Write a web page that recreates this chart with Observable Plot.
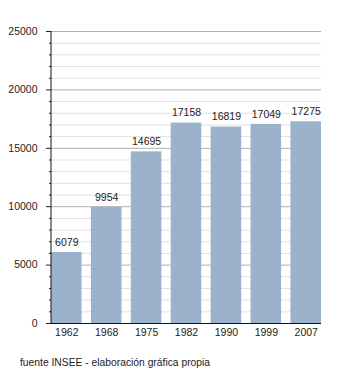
<!DOCTYPE html>
<html>
<head>
<meta charset="utf-8">
<script src="https://cdn.jsdelivr.net/npm/d3@7"></script>
<script src="https://cdn.jsdelivr.net/npm/@observablehq/plot@0.6"></script>
<style>
  body { margin: 0; background: #fff; font-family: "Liberation Sans", Arial, sans-serif; }
  #caption { margin: 12px 0 0 20px; font-size: 10.3px; line-height: 12px; color: #222; }
</style>
</head>
<body>
<div id="chart"></div>
<div id="caption">fuente INSEE - elaboración gráfica propia</div>
<script>
const years = ["1962", "1968", "1975", "1982", "1990", "1999", "2007"];
const population = [6079, 9954, 14695, 17158, 16819, 17049, 17275];
const majorTicks = [0, 5000, 10000, 15000, 20000, 25000];
const minorTicks = d3.range(0, 25001, 1000).filter(v => v % 5000 !== 0);

const data = years.map((y, i) => ({year: y, value: population[i]}));

const chart = Plot.plot({
  width: 350,
  height: 345,
  marginLeft: 51,
  marginRight: 29,
  marginTop: 31,
  marginBottom: 22,
  style: {fontFamily: "Liberation Sans, Arial, sans-serif", fontSize: "10.5px", color: "#222", background: "#fff"},
  x: {domain: years, paddingInner: 0.234, paddingOuter: 0, round: false, label: null},
  y: {domain: [0, 25000], label: null},
  marks: [
    Plot.gridY(minorTicks, {stroke: "#e0e0e0", strokeOpacity: 1}),
    Plot.gridY(majorTicks, {stroke: "#b0b0b0", strokeOpacity: 1}),
    Plot.barY(data, {x: "year", y: "value", fill: "#9bb2cd"}),
    Plot.text(data, {x: "year", y: "value", text: d => String(d.value), dy: -10, fill: "#222", fontSize: 10.5}),
    Plot.axisY({ticks: minorTicks, tickSize: 2, text: null, stroke: "#222", label: null}),
    Plot.axisY({ticks: majorTicks, tickSize: 5, tickPadding: 9, tickFormat: d => String(d), stroke: "#222", fill: "#222", label: null}),
    Plot.axisX({tickSize: 0, tickPadding: 5, fill: "#222", label: null}),
    Plot.frame({anchor: "left", stroke: "#111", dx: -0.5}),
    Plot.ruleY([0], {stroke: "#111", strokeWidth: 1.2})
  ]
});
document.getElementById("chart").appendChild(chart);
</script>
</body>
</html>
